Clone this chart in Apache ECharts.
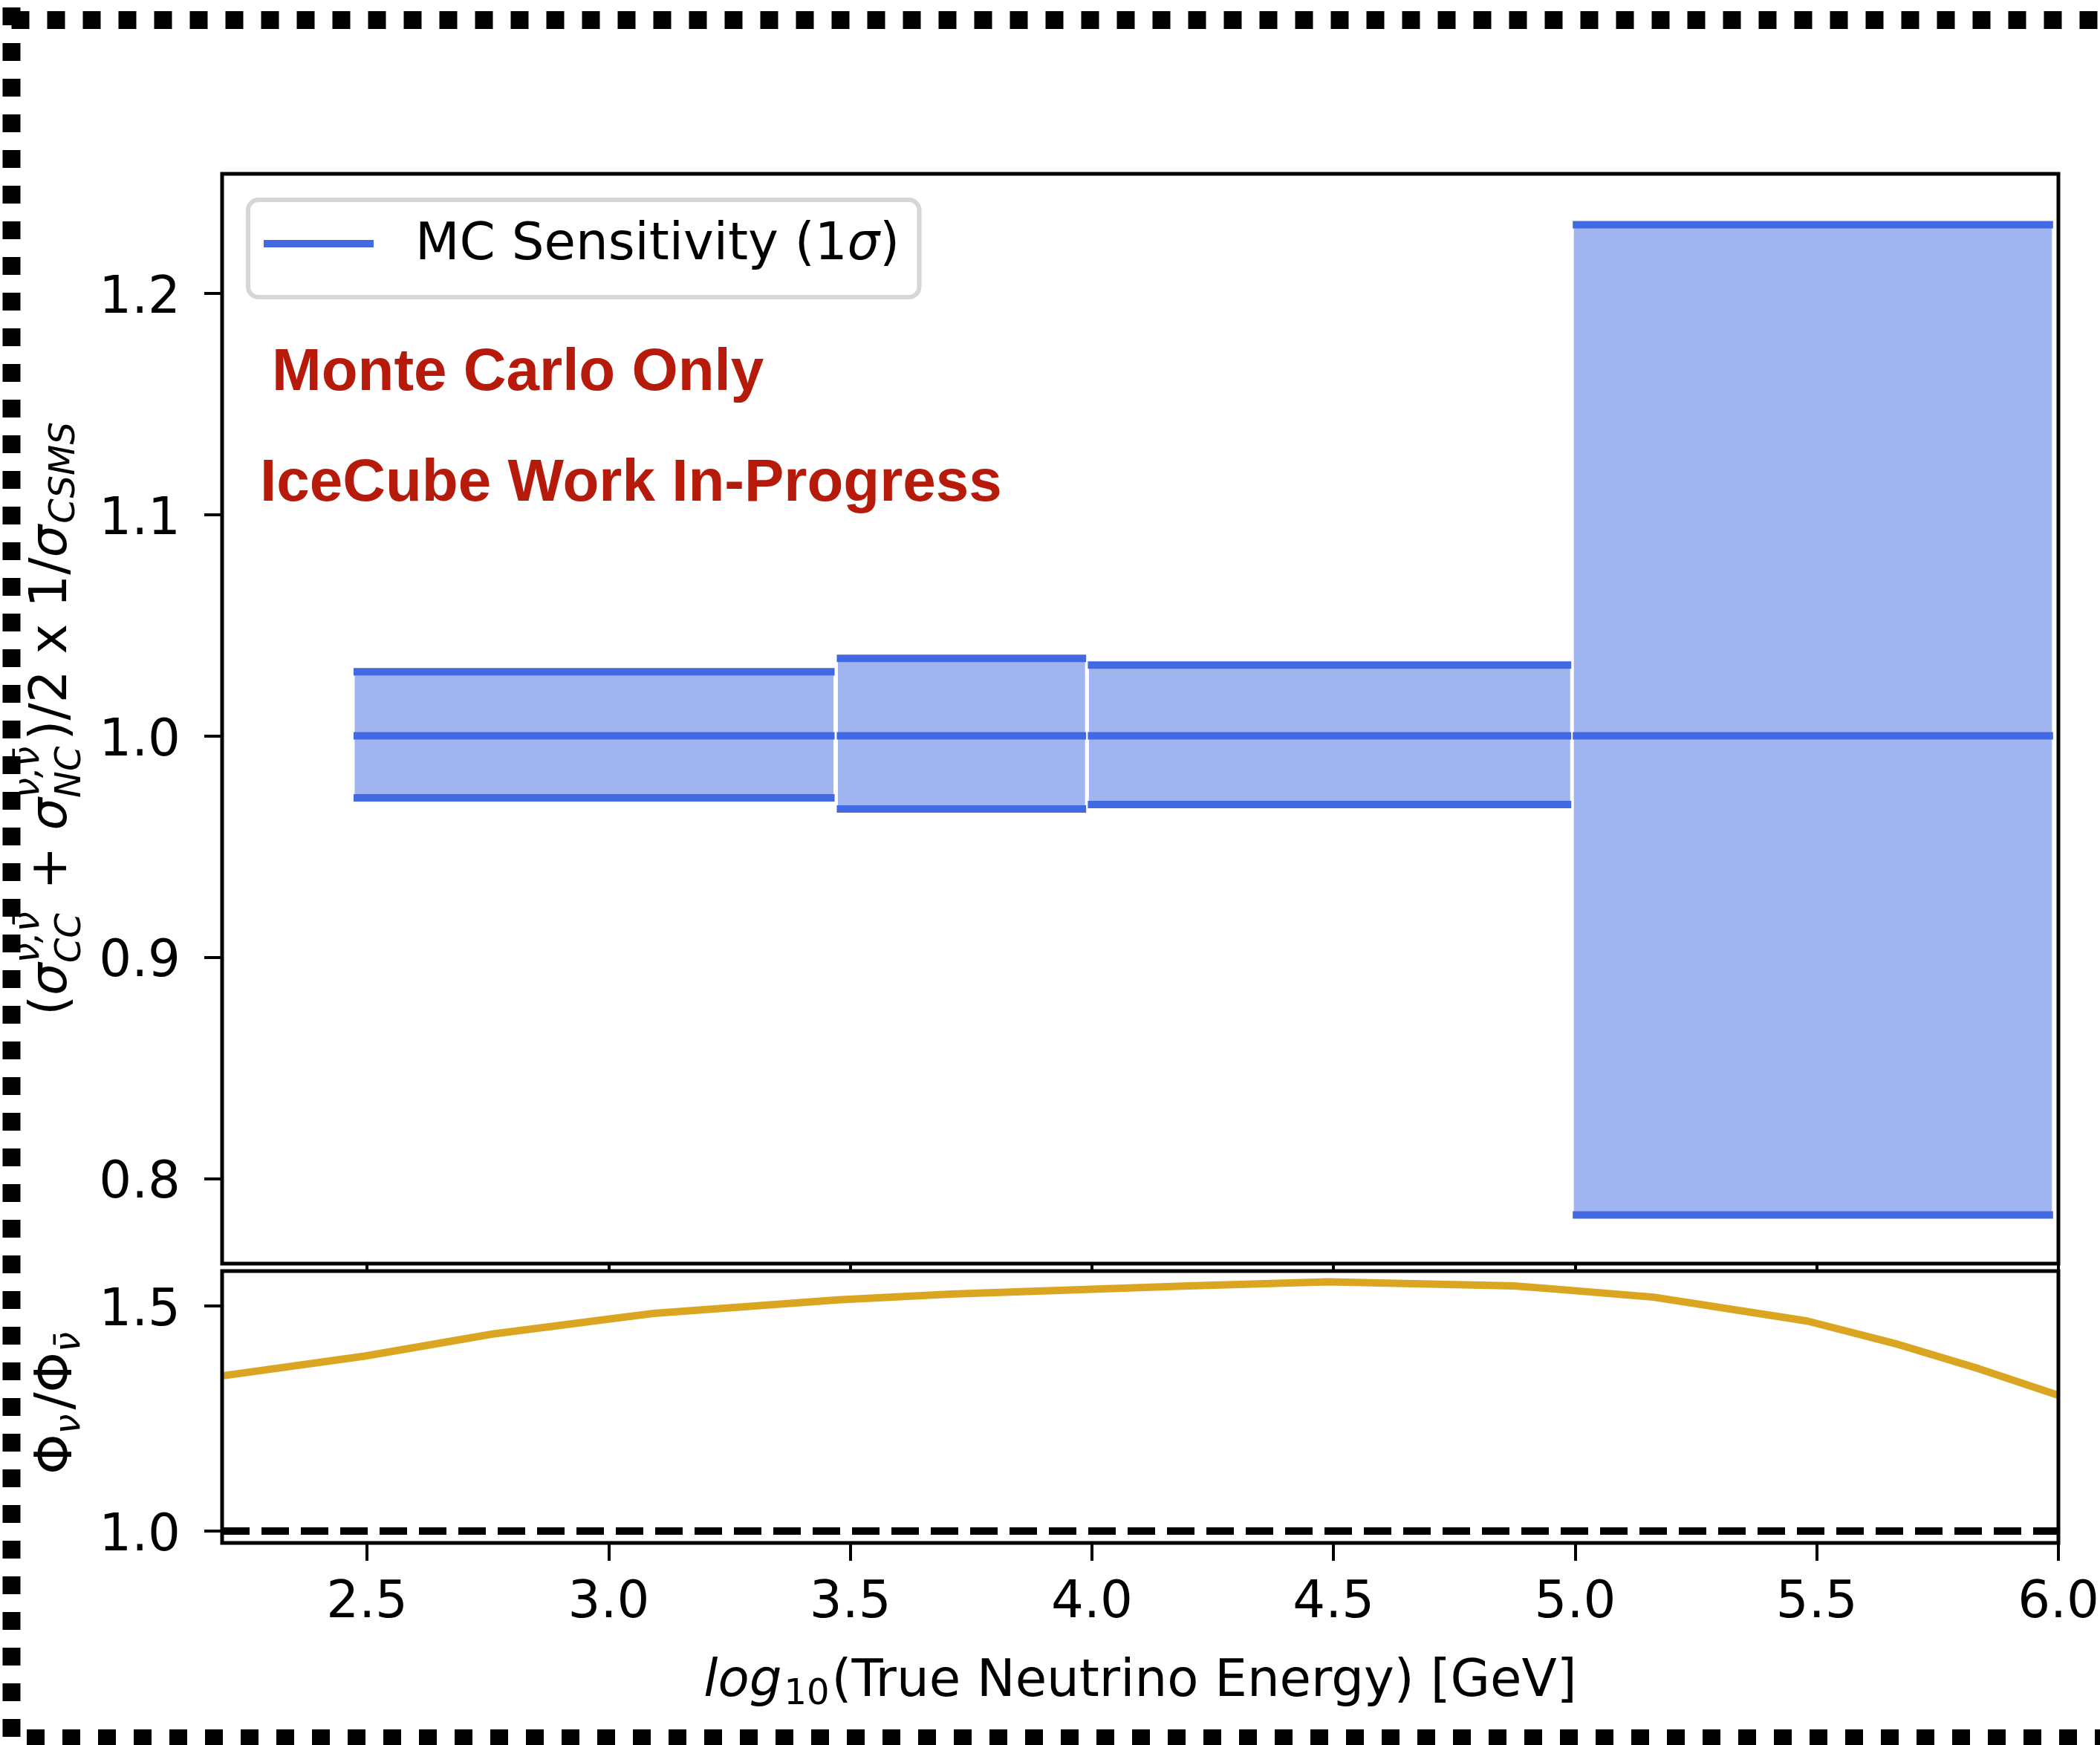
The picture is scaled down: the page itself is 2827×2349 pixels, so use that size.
<!DOCTYPE html>
<html>
<head>
<meta charset="utf-8">
<script src="https://cdn.jsdelivr.net/npm/echarts@6/dist/echarts.min.js"></script>
<style>
html,body{margin:0;padding:0;background:#fff;overflow:hidden}
#c{width:2827px;height:2349px}
</style>
</head>
<body>
<div id="c"></div>
<script>
// ---------------- data ----------------
const binLo     = [2.472, 3.472, 3.9915, 4.995];
const binHi     = [3.4675, 3.988, 4.992, 5.989];
const binCenter = [1.0, 1.0, 1.0, 1.0];
const binLower  = [0.972, 0.967, 0.969, 0.7835];
const binUpper  = [1.029, 1.035, 1.032, 1.231];

const ratioX = [2.2, 2.495, 2.76, 3.005, 3.093, 3.475, 3.709, 4.2, 4.489, 4.873, 4.946, 5.162, 5.48, 5.668, 5.835, 6.0];
const ratioY = [1.345, 1.389, 1.438, 1.472, 1.484, 1.514, 1.527, 1.545, 1.554, 1.545, 1.539, 1.520, 1.467, 1.415, 1.361, 1.302];

const refX = [2.2, 6.0];
const refY = [1.0, 1.0];

const xTicks      = [2.5, 3.0, 3.5, 4.0, 4.5, 5.0, 5.5, 6.0];
const yTicksMain  = [0.8, 0.9, 1.0, 1.1, 1.2];
const yTicksRatio = [1.0, 1.5];

const xRange      = [2.2, 6.0];
const yRangeMain  = [0.7615, 1.254];
const yRangeRatio = [0.9736, 1.578];

const legendText = ['MC Sensitivity (1', 'σ', ')'];
const note1 = 'Monte Carlo Only';
const note2 = 'IceCube Work In-Progress';

// ---------------- layout ----------------
const G1 = {left: 299, top: 234, width: 2472, height: 1467};
const G2 = {left: 299, top: 1711, width: 2472, height: 366};
const BLUE = '#4169E1';
const FS = 69, SS = 48, MID = 0.265;
const FAM = '"DejaVu Sans"';

const mctx = document.createElement('canvas').getContext('2d');
function fnt(size, italic) { return (italic ? 'italic ' : 'normal ') + size + 'px ' + FAM; }
function layoutMath(parts, z) {
  let x = 0; const kids = [];
  for (const p of parts) {
    const items = p.stack || [p];
    let adv = 0;
    for (const it of items) {
      const size = it.size || FS;
      const f = fnt(size, it.italic);
      mctx.font = f;
      const w = mctx.measureText(it.t).width;
      adv = Math.max(adv, w);
      kids.push({type: 'text', x: x, y: (it.dy || 0) - MID * size, z: z,
        style: {text: it.t, font: f, fill: '#000', textAlign: 'left', textVerticalAlign: 'middle'}});
    }
    x += adv + (p.gap || 0);
  }
  return {kids: kids, width: x};
}

const nuPair = 'ν,ν̄';
const yLabTop = layoutMath([
  {t: '('},
  {t: 'σ', italic: true},
  {stack: [{t: nuPair, size: SS, italic: true, dy: -37}, {t: 'CC', size: SS, italic: true, dy: 19}], gap: 8},
  {t: ' + '},
  {t: 'σ', italic: true},
  {stack: [{t: nuPair, size: SS, italic: true, dy: -37}, {t: 'NC', size: SS, italic: true, dy: 19}], gap: 8},
  {t: ')/2 x 1/'},
  {t: 'σ', italic: true, gap: 2},
  {t: 'CSMS', size: SS, italic: true, dy: 11}
], 120);
const yLabBot = layoutMath([
  {t: 'Φ'},
  {t: 'ν', size: SS, italic: true, dy: 11, gap: 6},
  {t: '/'},
  {t: 'Φ'},
  {t: 'ν̄', size: SS, italic: true, dy: 11}
], 120);
const xLab = layoutMath([
  {t: 'log', italic: true, gap: 3},
  {t: '10', size: SS, dy: 11, gap: 3},
  {t: '(True Neutrino Energy) [GeV]'}
], 120);
const legLab = layoutMath([
  {t: legendText[0]}, {t: legendText[1], italic: true}, {t: legendText[2]}
], 120);

const frameStyle = {stroke: '#000', lineWidth: 24, lineDash: [24, 24], lineCap: 'butt', fill: null};

const graphics = [
  {type: 'line', shape: {x1: 15.5, y1: 27, x2: 2860, y2: 27}, style: frameStyle, z: 200},
  {type: 'line', shape: {x1: 15.5, y1: 10, x2: 15.5, y2: 2380}, style: frameStyle, z: 200},
  {type: 'line', shape: {x1: 36, y1: 2340, x2: 2860, y2: 2340}, style: frameStyle, z: 200},
  {type: 'rect', shape: {x: G1.left, y: G1.top, width: G1.width, height: G1.height},
   style: {fill: null, stroke: '#000', lineWidth: 5}, z: 100},
  {type: 'rect', shape: {x: G2.left, y: G2.top, width: G2.width, height: G2.height},
   style: {fill: null, stroke: '#000', lineWidth: 5}, z: 100},
  // legend
  {type: 'rect', shape: {x: 334, y: 269, width: 903.5, height: 131, r: 14},
   style: {fill: 'rgba(255,255,255,0.8)', stroke: '#d6d6d6', lineWidth: 6}, z: 110},
  {type: 'line', shape: {x1: 355, y1: 328, x2: 503, y2: 328},
   style: {stroke: BLUE, lineWidth: 10, lineCap: 'butt'}, z: 115},
  {type: 'group', x: 559, y: 349, children: legLab.kids},
  // annotations
  {type: 'text', x: 366, y: 524 - MID * 80, z: 120,
   style: {text: note1, font: 'bold 80px "Liberation Sans"', fill: '#b51a0a', textAlign: 'left', textVerticalAlign: 'middle'}},
  {type: 'text', x: 350, y: 673 - MID * 80, z: 120,
   style: {text: note2, font: 'bold 80px "Liberation Sans"', fill: '#b51a0a', textAlign: 'left', textVerticalAlign: 'middle'}},
  // axis titles
  {type: 'group', x: 89, y: 967.5 + yLabTop.width / 2, rotation: Math.PI / 2, children: yLabTop.kids},
  {type: 'group', x: 96, y: 1889 + yLabBot.width / 2, rotation: Math.PI / 2, children: yLabBot.kids},
  {type: 'group', x: 1535 - xLab.width / 2, y: 2283, children: xLab.kids}
];

const tickLine = {color: '#000', width: 4};
const labelFont = {fontFamily: 'DejaVu Sans', fontSize: FS, color: '#000'};
const fmt = v => Number(v).toFixed(1);
const yRich = {v: {fontFamily: 'DejaVu Sans', fontSize: FS, color: '#000', padding: [16, 0, 0, 0]}};
const yFmt = v => '{v|' + Number(v).toFixed(1) + '}';

const option = {
  animation: false,
  backgroundColor: '#fff',
  grid: [
    Object.assign({containLabel: false, outerBoundsMode: 'none', show: false}, G1),
    Object.assign({containLabel: false, outerBoundsMode: 'none', show: false}, G2)
  ],
  xAxis: [
    {gridIndex: 0, type: 'value', min: xRange[0], max: xRange[1],
     axisLine: {show: false}, splitLine: {show: false},
     axisTick: {show: true, customValues: xTicks, length: 10, inside: false, lineStyle: tickLine},
     axisLabel: {show: false}},
    {gridIndex: 1, type: 'value', min: xRange[0], max: xRange[1],
     axisLine: {show: false}, splitLine: {show: false},
     axisTick: {show: true, customValues: xTicks, length: 24, inside: false, lineStyle: tickLine},
     axisLabel: Object.assign({show: true, customValues: xTicks, margin: 48, formatter: fmt}, labelFont)}
  ],
  yAxis: [
    {gridIndex: 0, type: 'value', min: yRangeMain[0], max: yRangeMain[1],
     axisLine: {show: false}, splitLine: {show: false},
     axisTick: {show: true, customValues: yTicksMain, length: 24, inside: false, lineStyle: tickLine},
     axisLabel: Object.assign({show: true, customValues: yTicksMain, margin: 56, formatter: yFmt, rich: yRich}, labelFont)},
    {gridIndex: 1, type: 'value', min: yRangeRatio[0], max: yRangeRatio[1],
     axisLine: {show: false}, splitLine: {show: false},
     axisTick: {show: true, customValues: yTicksRatio, length: 24, inside: false, lineStyle: tickLine},
     axisLabel: Object.assign({show: true, customValues: yTicksRatio, margin: 56, formatter: yFmt, rich: yRich}, labelFont)}
  ],
  series: [
    {
      name: 'MC Sensitivity (1σ)',
      type: 'custom',
      xAxisIndex: 0, yAxisIndex: 0,
      encode: {x: [0, 1], y: [2, 3, 4]},
      data: binLo.map((lo, i) => [lo, binHi[i], binLower[i], binCenter[i], binUpper[i]]),
      renderItem: function (params, api) {
        const lo = api.value(0), hi = api.value(1), low = api.value(2), mid = api.value(3), up = api.value(4);
        const pA = api.coord([lo, up]);
        const pB = api.coord([hi, low]);
        const yM = api.coord([lo, mid])[1];
        const x0 = pA[0], x1 = pB[0], yU = pA[1], yL = pB[1];
        const ls = {stroke: BLUE, lineWidth: 10, lineCap: 'butt'};
        return {type: 'group', children: [
          {type: 'rect', shape: {x: x0, y: yU, width: x1 - x0, height: yL - yU},
           style: {fill: 'rgba(65,105,225,0.5)', stroke: '#fff', lineWidth: 3}},
          {type: 'line', shape: {x1: x0, y1: yU, x2: x1, y2: yU}, style: ls},
          {type: 'line', shape: {x1: x0, y1: yM, x2: x1, y2: yM}, style: ls},
          {type: 'line', shape: {x1: x0, y1: yL, x2: x1, y2: yL}, style: ls}
        ]};
      }
    },
    {
      name: 'ref',
      type: 'line',
      xAxisIndex: 1, yAxisIndex: 1,
      data: refX.map((x, i) => [x, refY[i]]),
      symbol: 'none', showSymbol: false, silent: true, z: 2,
      lineStyle: {color: '#000', width: 10, type: [37, 16], cap: 'butt'}
    },
    {
      name: 'ratio',
      type: 'line',
      xAxisIndex: 1, yAxisIndex: 1,
      data: ratioX.map((x, i) => [x, ratioY[i]]),
      symbol: 'none', showSymbol: false, silent: true, z: 3, clip: true,
      lineStyle: {color: '#DAA520', width: 10, cap: 'butt', join: 'round'}
    }
  ],
  graphic: {elements: graphics}
};

const chart = echarts.init(document.getElementById('c'), null, {renderer: 'canvas', width: 2827, height: 2349});
chart.setOption(option);
</script>
</body>
</html>
